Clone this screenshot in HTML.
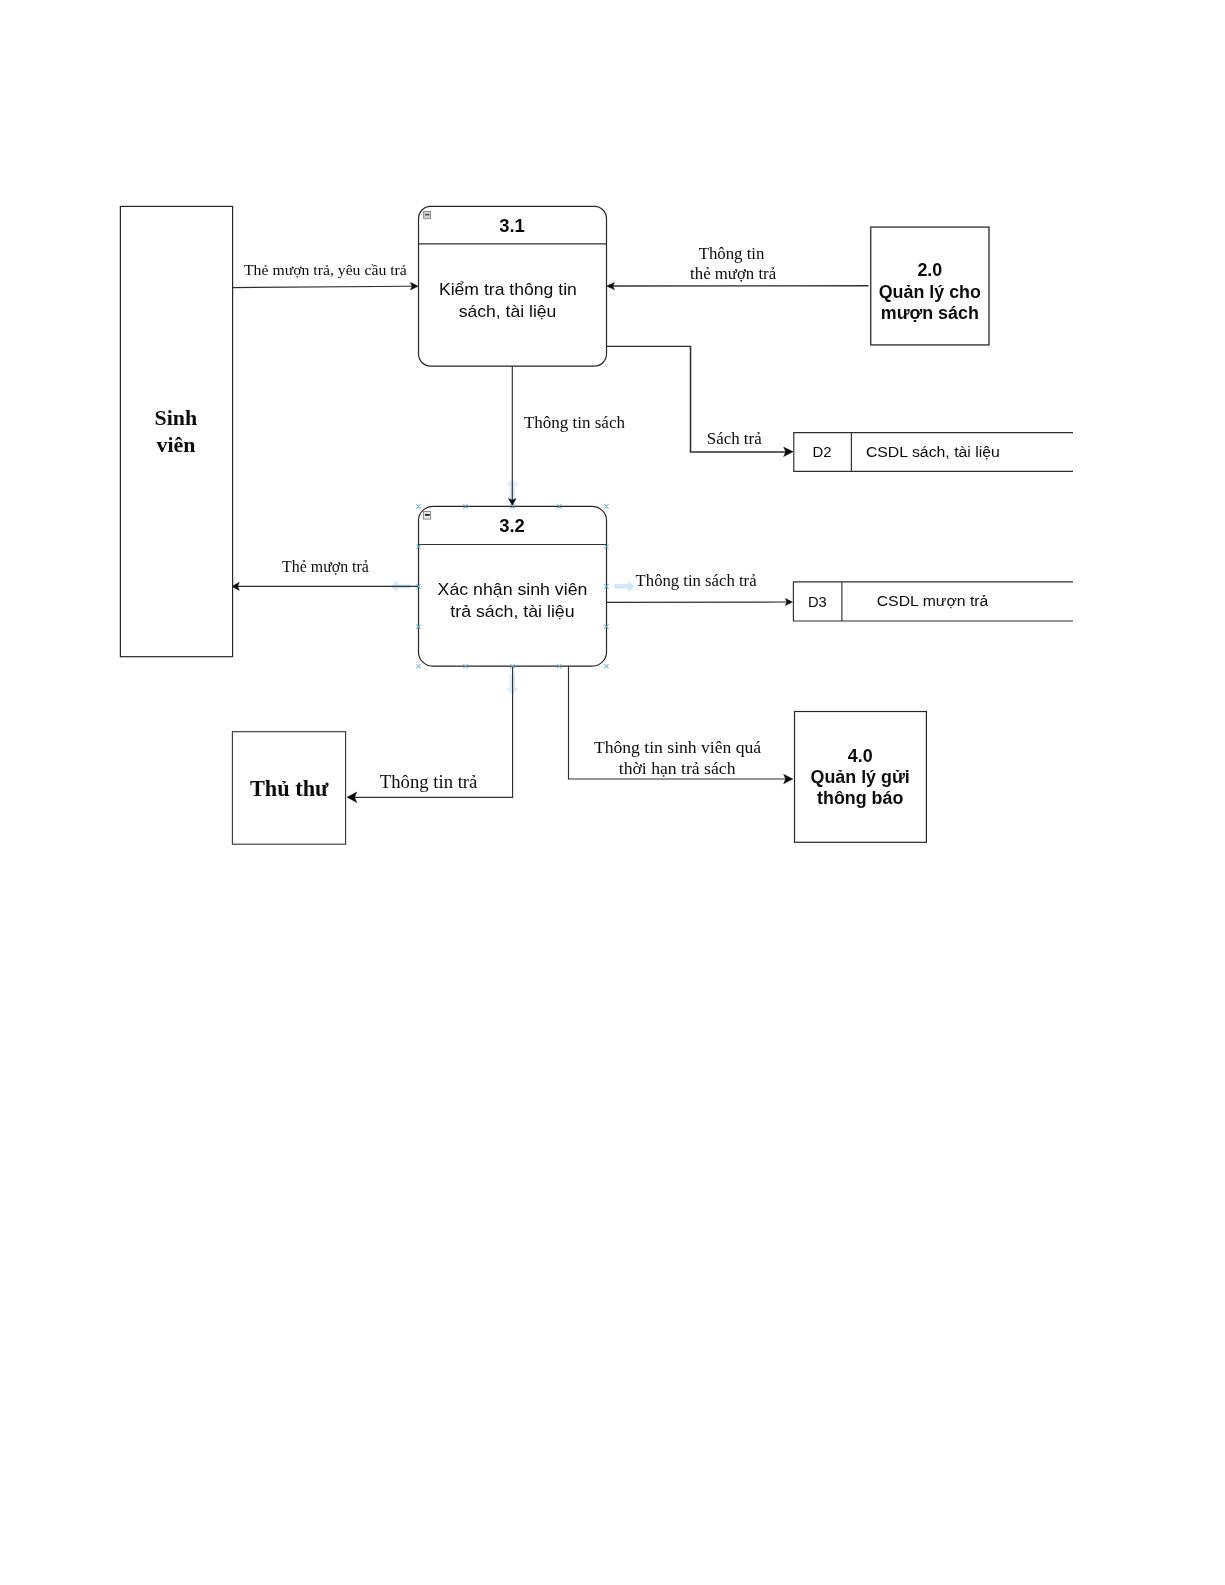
<!DOCTYPE html>
<html lang="vi">
<head>
<meta charset="utf-8">
<title>DFD 3.0 - Quản lý trả sách</title>
<style>
  html, body { margin: 0; padding: 0; background: #ffffff; }
  body { width: 1225px; height: 1585px; overflow: hidden; }
  svg { display: block; }
  text { filter: url(#nf); }
  .ln { stroke: #2e2e2e; stroke-width: 1.15; fill: none; }
  .bx { stroke: #262626; stroke-width: 1.2; fill: #ffffff; }
  .ah { fill: #0a0a0a; stroke: #0a0a0a; stroke-width: 0.4; stroke-linejoin: miter; }
  .sans { font-family: "Liberation Sans", Arial, sans-serif; fill: #0c0c0c; }
  .serif { font-family: "Liberation Serif", "Times New Roman", serif; fill: #0c0c0c; }
  .b { font-weight: bold; }
  .mid { text-anchor: middle; }
  .cp { stroke: #6aaec9; stroke-width: 1.05; fill: none; opacity: 0.85; }
  .hov { fill: #d3e8f5; stroke: none; }
</style>
</head>
<body>
<svg width="1225" height="1585" viewBox="0 0 1225 1585">
  <defs>
    <filter id="nf" x="-5%" y="-25%" width="110%" height="150%"><feOffset dx="0" dy="0"/></filter>
  </defs>
  <rect x="0" y="0" width="1225" height="1585" fill="#ffffff"/>

  <g id="hover-arrows">
    <!-- left -->
    <path class="hov" d="M390.6 586.4 L397.4 580.3 L397.4 584.2 L410.6 584.2 L410.6 588.6 L397.4 588.6 L397.4 592.5 Z"/>
    <!-- right -->
    <path class="hov" d="M634.4 586.3 L627.6 580.2 L627.6 584.1 L614.4 584.1 L614.4 588.5 L627.6 588.5 L627.6 592.4 Z"/>
    <!-- up -->
    <path class="hov" style="opacity:.75" d="M512.3 478.6 L505.7 485.4 L509.5 485.4 L509.5 498.4 L515.1 498.4 L515.1 485.4 L518.9 485.4 Z"/>
    <!-- down -->
    <path class="hov" style="opacity:.75" d="M512.5 695 L505.9 688.2 L509.7 688.2 L509.7 675 L515.3 675 L515.3 688.2 L519.1 688.2 Z"/>
  </g>

  <!-- ===== edges (lines) ===== -->
  <g id="edges">
    <!-- Sinh vien -> 3.1 -->
    <path class="ln" d="M233 287.6 L412 286.2"/>
    <!-- 2.0 -> 3.1 -->
    <path class="ln" style="stroke-width:1.4" d="M868.5 285.8 L612 286"/>
    <!-- 3.1 -> D2 -->
    <path class="ln" d="M606.5 346.4 L691 346.4"/>
    <path class="ln" style="stroke-width:1.5" d="M690.5 345.9 L690.5 451.9 L786 451.9"/>
    <!-- 3.1 -> 3.2 -->
    <path class="ln" d="M512.3 366 L512.3 500"/>
    <!-- 3.2 -> Sinh vien -->
    <path class="ln" d="M418.4 586.3 L236 586.3"/>
    <!-- 3.2 -> D3 -->
    <path class="ln" d="M606.5 602.4 L787 602"/>
    <!-- 3.2 -> Thu thu -->
    <path class="ln" d="M512.6 666 L512.6 797.3 L354 797.3"/>
    <!-- 3.2 -> 4.0 -->
    <path class="ln" d="M568.5 666 L568.5 779 L786 779"/>
  </g>

  <!-- ===== arrow heads ===== -->
  <g id="heads">
    <path class="ah" d="M418.2 286.2 L410.4 290.1 L412.1 286.2 L410.4 282.3 Z"/>
    <path class="ah" d="M606.5 286.1 L614.6 282.4 L612.8 286.1 L614.6 289.8 Z"/>
    <path class="ah" d="M793.2 451.8 L783.6 456.5 L785.8 451.8 L783.6 447.1 Z"/>
    <path class="ah" d="M512.3 505.6 L508.4 498.4 L512.3 500.0 L516.1 498.4 Z"/>
    <path class="ah" d="M231.8 586.4 L239.3 582.3 L237.7 586.4 L239.3 590.5 Z"/>
    <path class="ah" d="M792.5 602.0 L785.3 605.6 L786.9 602.0 L785.3 598.4 Z"/>
    <path class="ah" d="M347.0 797.3 L356.8 792.1 L354.6 797.3 L356.8 802.5 Z"/>
    <path class="ah" d="M792.9 779.0 L783.6 783.8 L785.7 779.0 L783.6 774.2 Z"/>
  </g>

  <!-- ===== entities ===== -->
  <g id="entities">
    <rect class="bx" x="120.4" y="206.4" width="112.2" height="450.3"/>
    <text class="serif b mid" font-size="21.9" x="175.9" y="425">Sinh</text>
    <text class="serif b mid" font-size="21.9" x="176" y="452.2">viên</text>

    <rect class="bx" style="stroke:#333;stroke-width:1.1" x="232.4" y="731.7" width="113.2" height="112.5"/>
    <text class="serif b mid" font-size="22.3" x="289.2" y="795.6">Thủ thư</text>

    <rect class="bx" style="stroke:#454545;stroke-width:1.5" x="870.7" y="227.1" width="118.3" height="117.8"/>
    <text class="sans b mid" font-size="17.85" x="929.8" y="276.3">2.0</text>
    <text class="sans b mid" font-size="17.85" x="929.8" y="298.2">Quản lý cho</text>
    <text class="sans b mid" font-size="17.85" x="929.8" y="319.3">mượn sách</text>

    <rect class="bx" x="794.5" y="711.5" width="131.9" height="130.8"/>
    <text class="sans b mid" font-size="17.85" x="860.2" y="761.6">4.0</text>
    <text class="sans b mid" font-size="17.85" x="860.2" y="782.7">Quản lý gửi</text>
    <text class="sans b mid" font-size="17.85" x="860.2" y="804.2">thông báo</text>
  </g>

  <!-- ===== processes ===== -->
  <g id="processes">
    <rect class="bx" x="418.5" y="206.4" width="188" height="159.7" rx="12" ry="12.3"/>
    <path class="ln" d="M418.5 243.9 L606.5 243.9"/>
    <rect x="423.6" y="211.5" width="7" height="7.2" fill="#d2d2d2" stroke="#8a8a8a" stroke-width="0.9"/>
    <path d="M425 214.7 L429.4 214.7" stroke="#4a4a4a" stroke-width="1.5"/>
    <text class="sans b mid" font-size="18.4" x="512" y="231.8">3.1</text>
    <text class="sans" font-size="16.2" x="438.9" y="294.6" textLength="138" lengthAdjust="spacingAndGlyphs">Kiểm tra thông tin</text>
    <text class="sans" font-size="16.2" x="458.7" y="316.5" textLength="97.7" lengthAdjust="spacingAndGlyphs">sách, tài liệu</text>

    <rect class="bx" x="418.5" y="506.3" width="188" height="159.9" rx="14.8" ry="14"/>
    <path class="ln" d="M418.5 544.5 L606.5 544.5"/>
    <rect x="423.6" y="511.5" width="7" height="7.6" fill="#ececec" stroke="#808080" stroke-width="0.9"/>
    <path d="M425 514.9 L429.8 514.9" stroke="#1c1c1c" stroke-width="1.7"/>
    <text class="sans b mid" font-size="18.4" x="512" y="532">3.2</text>
    <text class="sans" font-size="16.2" x="437.6" y="595.2" textLength="149.8" lengthAdjust="spacingAndGlyphs">Xác nhận sinh viên</text>
    <text class="sans" font-size="16.2" x="450.3" y="616.6" textLength="124.3" lengthAdjust="spacingAndGlyphs">trả sách, tài liệu</text>
  </g>

  <!-- ===== connection points + hover arrows on 3.2 ===== -->
  <g id="hover">
    <path class="cp" d="M416.3 504.2 L420.7 508.6 M420.7 504.2 L416.3 508.6 M463.3 504.2 L467.7 508.6 M467.7 504.2 L463.3 508.6 M510.2 504.2 L514.6 508.6 M514.6 504.2 L510.2 508.6 M557.2 504.2 L561.6 508.6 M561.6 504.2 L557.2 508.6 M604.2 504.2 L608.6 508.6 M608.6 504.2 L604.2 508.6 M416.3 664.0 L420.7 668.4 M420.7 664.0 L416.3 668.4 M463.3 664.0 L467.7 668.4 M467.7 664.0 L463.3 668.4 M510.2 664.0 L514.6 668.4 M514.6 664.0 L510.2 668.4 M557.2 664.0 L561.6 668.4 M561.6 664.0 L557.2 668.4 M604.2 664.0 L608.6 668.4 M608.6 664.0 L604.2 668.4 M416.3 544.6 L420.7 549.0 M420.7 544.6 L416.3 549.0 M416.3 584.2 L420.7 588.6 M420.7 584.2 L416.3 588.6 M416.3 624.4 L420.7 628.8 M420.7 624.4 L416.3 628.8 M604.2 544.6 L608.6 549.0 M608.6 544.6 L604.2 549.0 M604.2 584.2 L608.6 588.6 M608.6 584.2 L604.2 588.6 M604.2 624.4 L608.6 628.8 M608.6 624.4 L604.2 628.8"/>
  </g>

  <!-- ===== data stores ===== -->
  <g id="stores">
    <path class="ln" d="M1073 432.6 L793.8 432.6 L793.8 471.3 L1073 471.3"/>
    <path class="ln" d="M851.4 432.6 L851.4 471.3"/>
    <text class="sans" font-size="14.9" x="812.4" y="456.8">D2</text>
    <text class="sans" font-size="14.7" x="865.9" y="456.6" textLength="134" lengthAdjust="spacingAndGlyphs">CSDL sách, tài liệu</text>

    <path class="ln" d="M1073 581.8 L793.4 581.8 L793.4 621 L1073 621"/>
    <path class="ln" d="M841.9 581.8 L841.9 621"/>
    <text class="sans" font-size="14.7" x="808" y="606.8">D3</text>
    <text class="sans" font-size="14.7" x="876.7" y="605.9" textLength="111.7" lengthAdjust="spacingAndGlyphs">CSDL mượn trả</text>
  </g>

  <!-- ===== edge labels ===== -->
  <g id="labels">
    <text class="serif" font-size="15.6" x="244" y="275.2" textLength="162.8" lengthAdjust="spacingAndGlyphs">Thẻ mượn trả, yêu cầu trả</text>
    <text class="serif mid" font-size="16.8" x="731.5" y="259.3">Thông tin</text>
    <text class="serif mid" font-size="16.8" x="733.1" y="279.4">thẻ mượn trả</text>
    <text class="serif" font-size="17" x="523.9" y="427.8">Thông tin sách</text>
    <text class="serif" font-size="16.9" x="706.8" y="443.5">Sách trả</text>
    <text class="serif" font-size="15.9" x="282.1" y="572.1">Thẻ mượn trả</text>
    <text class="serif" font-size="16.7" x="635.6" y="586.3">Thông tin sách trả</text>
    <text class="serif" font-size="18.7" x="379.8" y="787.6">Thông tin trả</text>
    <text class="serif" font-size="17.5" x="593.9" y="752.6" textLength="167.3" lengthAdjust="spacingAndGlyphs">Thông tin sinh viên quá</text>
    <text class="serif" font-size="17.5" x="618.8" y="774.3" textLength="116.7" lengthAdjust="spacingAndGlyphs">thời hạn trả sách</text>
  </g>
</svg>
</body>
</html>
